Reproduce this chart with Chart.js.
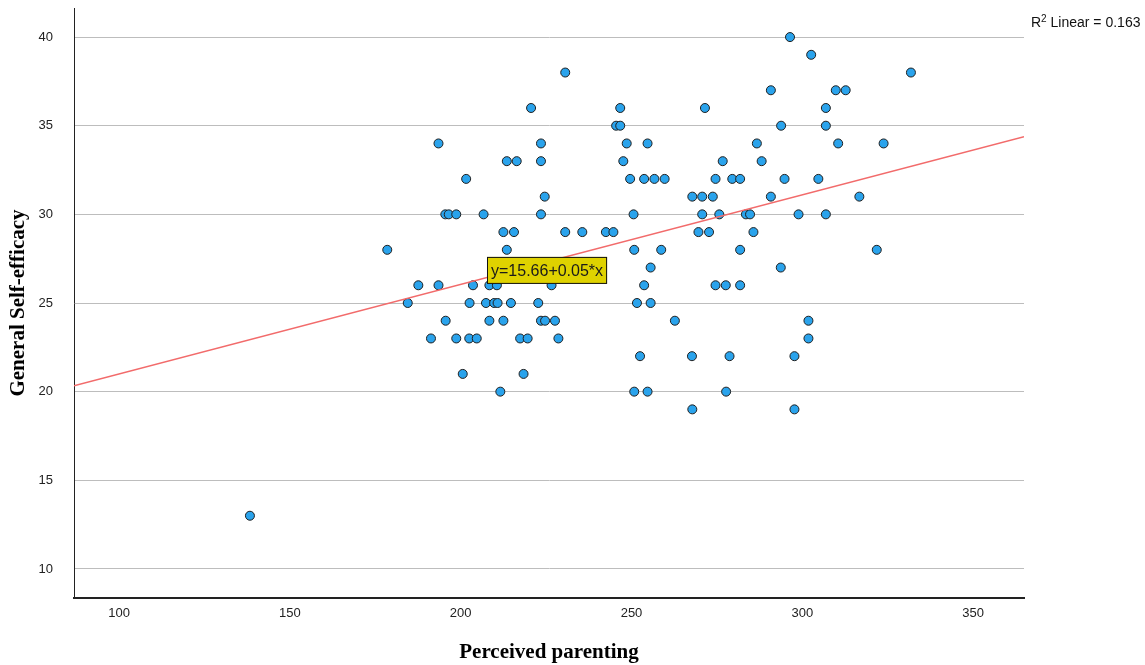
<!DOCTYPE html>
<html>
<head>
<meta charset="utf-8">
<script src="https://cdn.jsdelivr.net/npm/chart.js@4.4.0/dist/chart.umd.min.js"></script>
<style>
  html, body { margin: 0; padding: 0; background: #fff; }
  #wrap { width: 1145px; height: 665px; }
</style>
</head>
<body>
<div id="wrap"><canvas id="scatterChart" width="1145" height="665"></canvas></div>
<script>
// Values (one entry per respondent)
const perceivedParenting = [
  296.4,
  302.6,
  230.6, 331.8,
  290.8, 309.8, 312.7,
  220.6, 246.7, 271.5, 306.9,
  245.5, 246.7, 293.8, 306.9,
  193.5, 223.5, 248.6, 254.7, 286.7, 310.5, 323.8,
  213.5, 216.4, 223.5, 247.6, 276.7, 288.1,
  201.6, 249.6, 253.7, 256.7, 259.7, 274.6, 279.5, 281.8, 294.8, 304.7,
  224.6, 267.8, 270.7, 273.8, 290.8, 316.7,
  195.5, 196.5, 198.7, 206.7, 223.5, 250.6, 270.7, 275.7, 283.5, 284.7, 298.9, 306.9,
  212.5, 215.6, 230.6, 235.6, 242.5, 244.7, 269.6, 272.7, 285.7,
  178.5, 213.5, 250.8, 258.7, 281.8, 321.8,
  255.6, 293.7,
  187.6, 193.5, 203.6, 208.4, 210.6, 226.6, 253.7, 274.6, 277.6, 281.8,
  184.5, 202.6, 207.4, 209.8, 210.8, 214.7, 222.7, 251.6, 255.6,
  195.6, 208.4, 212.5, 223.5, 224.7, 227.6, 262.7, 301.8,
  191.3, 198.7, 202.5, 204.7, 217.4, 219.6, 228.6, 301.8,
  252.5, 267.7, 278.7, 297.7,
  200.6, 218.4,
  211.6, 250.8, 254.7, 277.7,
  267.8, 297.7,
  138.3
];

const selfEfficacy = [
  40,
  39,
  38, 38,
  37, 37, 37,
  36, 36, 36, 36,
  35, 35, 35, 35,
  34, 34, 34, 34, 34, 34, 34,
  33, 33, 33, 33, 33, 33,
  32, 32, 32, 32, 32, 32, 32, 32, 32, 32,
  31, 31, 31, 31, 31, 31,
  30, 30, 30, 30, 30, 30, 30, 30, 30, 30, 30, 30,
  29, 29, 29, 29, 29, 29, 29, 29, 29,
  28, 28, 28, 28, 28, 28,
  27, 27,
  26, 26, 26, 26, 26, 26, 26, 26, 26, 26,
  25, 25, 25, 25, 25, 25, 25, 25, 25,
  24, 24, 24, 24, 24, 24, 24, 24,
  23, 23, 23, 23, 23, 23, 23, 23,
  22, 22, 22, 22,
  21, 21,
  20, 20, 20, 20,
  19, 19,
  13
];

// Axis ticks and ranges
const xTickValues = [100, 150, 200, 250, 300, 350];
const yTickValues = [10, 15, 20, 25, 30, 35, 40];
const xRange = [86.8, 364.9];
const yRange = [8.36, 41.64];

// Fit line as drawn (label shows the rounded coefficients)
const fitIntercept = 15.95;
const fitSlope = 0.0505;
const fitLabel = 'y=15.66+0.05*x';
const fitLabelAnchor = { x: 207.7, y: 27.6 };
const rSquaredText = ' Linear = 0.163';

/**
 * Yellow equation box drawn on the plot, SPSS style
 */
const fitLabelPlugin = {
  id: 'fitLabel',
  afterDatasetsDraw(chart) {
    const { ctx, scales } = chart;
    const left = scales.x.getPixelForValue(fitLabelAnchor.x);
    const top = scales.y.getPixelForValue(fitLabelAnchor.y);
    ctx.save();
    ctx.font = '16px "Liberation Sans", Arial, sans-serif';
    const w = ctx.measureText(fitLabel).width + 8;
    const h = 27;
    ctx.fillStyle = '#dfd200';
    ctx.fillRect(left, top, w, h);
    ctx.strokeStyle = '#111';
    ctx.lineWidth = 1;
    ctx.strokeRect(left + 0.5, top + 0.5, w - 1, h - 1);
    ctx.fillStyle = '#1a1a1a';
    ctx.textBaseline = 'middle';
    ctx.fillText(fitLabel, left + 4, top + h / 2 + 1);
    ctx.restore();
  }
};

/**
 * R squared note in the top right corner
 */
const rSquaredPlugin = {
  id: 'rSquared',
  afterDraw(chart) {
    const { ctx } = chart;
    const x = 1031;
    const y = 27;
    ctx.save();
    ctx.fillStyle = '#111';
    ctx.textBaseline = 'alphabetic';
    ctx.font = '14px "Liberation Sans", Arial, sans-serif';
    ctx.fillText('R', x, y);
    const rw = ctx.measureText('R').width;
    ctx.font = '10px "Liberation Sans", Arial, sans-serif';
    ctx.fillText('2', x + rw, y - 5);
    const sw = ctx.measureText('2').width;
    ctx.font = '14px "Liberation Sans", Arial, sans-serif';
    ctx.fillText(rSquaredText, x + rw + sw, y);
    ctx.restore();
  }
};

const tickFont = { family: '"Liberation Sans", Arial, sans-serif', size: 13 };
const titleFont = { family: '"Liberation Serif", "Times New Roman", serif', size: 21, weight: 'bold' };

const points = perceivedParenting.map((x, i) => ({ x: x, y: selfEfficacy[i] }));
const fitLine = xRange.map((x) => ({ x: x, y: fitIntercept + fitSlope * x }));

// Fixed axis boxes so the plot area lands where the reference has it
function clearScalePadding(scale) {
  scale.paddingTop = 0;
  scale.paddingBottom = 0;
  scale.paddingLeft = 0;
  scale.paddingRight = 0;
}

new Chart(document.getElementById('scatterChart'), {
  type: 'scatter',
  data: {
    datasets: [
      {
        type: 'line',
        label: 'Linear fit',
        data: fitLine,
        borderColor: '#f26b6b',
        borderWidth: 1.4,
        pointRadius: 0,
        fill: false,
        order: 0,
      },
      {
        label: 'Respondents',
        data: points,
        backgroundColor: '#2aa3ec',
        borderColor: '#1f1f1f',
        borderWidth: 1,
        pointRadius: 4.5,
        order: 1,
      },
    ],
  },
  options: {
    responsive: false,
    animation: false,
    layout: { padding: { left: 0, right: 121, top: 8, bottom: 0 } },
    plugins: {
      legend: { display: false },
      title: { display: false },
      tooltip: { enabled: false },
    },
    scales: {
      x: {
        type: 'linear',
        position: 'bottom',
        min: xRange[0],
        max: xRange[1],
        afterBuildTicks: (scale) => {
          scale.ticks = xTickValues.map((v) => ({ value: v }));
        },
        afterFit: (scale) => {
          scale.height = 67;
          clearScalePadding(scale);
        },
        grid: { display: false, drawTicks: false },
        border: { display: true, color: '#222', width: 2 },
        ticks: { font: tickFont, color: '#222', padding: 8, maxRotation: 0 },
        title: {
          display: true,
          text: 'Perceived parenting',
          font: titleFont,
          color: '#000',
          padding: { top: 0, bottom: 0 },
        },
      },
      y: {
        type: 'linear',
        position: 'left',
        min: yRange[0],
        max: yRange[1],
        afterBuildTicks: (scale) => {
          scale.ticks = yTickValues.map((v) => ({ value: v }));
        },
        afterFit: (scale) => {
          scale.width = 74;
          clearScalePadding(scale);
        },
        grid: { color: '#bdbdbd', lineWidth: 1, drawTicks: false },
        border: { display: true, color: '#222', width: 1 },
        ticks: { font: tickFont, color: '#222', padding: 21 },
        title: {
          display: true,
          text: 'General Self-efficacy',
          font: titleFont,
          color: '#000',
          padding: { top: 6, bottom: 0 },
        },
      },
    },
  },
  plugins: [fitLabelPlugin, rSquaredPlugin],
});
</script>
</body>
</html>
